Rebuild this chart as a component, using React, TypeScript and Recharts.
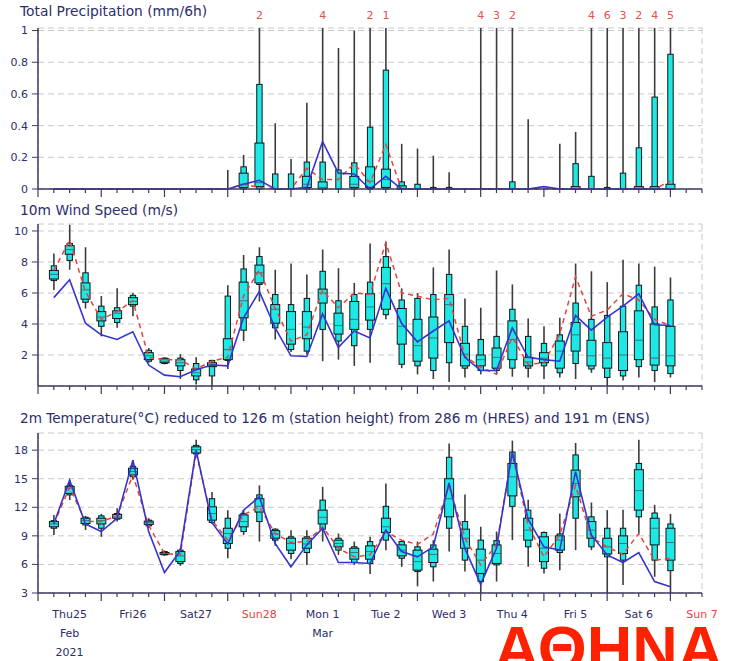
import React from 'react';
import { ComposedChart, Bar, Line, XAxis, YAxis, CartesianGrid } from 'recharts';

// ---- time axis (hours after Thu 25 Feb 2021 00 UTC) ----
const hours = [6, 12, 18, 24, 30, 36, 42, 48, 54, 60, 66, 72, 78, 84, 90, 96, 102, 108, 114, 120,
  126, 132, 138, 144, 150, 156, 162, 168, 174, 180, 186, 192, 198, 204, 210, 216, 222, 228, 234, 240];
const dayLabels = ['Thu25', 'Fri26', 'Sat27', 'Sun28', 'Mon 1', 'Tue 2', 'Wed 3', 'Thu 4', 'Fri 5', 'Sat 6', 'Sun 7'];
const monthLabels = ['Feb', '', '', '', 'Mar', '', '', '', '', '', ''];
const yearLabels = ['2021', '', '', '', '', '', '', '', '', '', ''];
const redDays = ['Sun28', 'Sun 7'];
const dayLines = [24, 48, 72, 96, 120, 144, 168, 192, 216, 240];

// ---- precipitation (mm/6h) ----
const prMin = [0,0,0,0,0,0,0,0,0,0,0,0,0,0,0,0,0,0,0,0,0,0,0,0,0,0,0,0,0,0,0,0,0,0,0,0,0,0,0,0];
const prP10 = [0,0,0,0,0,0,0,0,0,0,0,0,0,0,0,0,0,0,0,0,0,0,0,0,0,0,0,0,0,0,0,0,0,0,0,0,0,0,0,0];
const prP25 = [0,0,0,0,0,0,0,0,0,0,0,0,0.01,0.015,0,0,0.01,0,0,0.01,0.01,0.01,0,0,0,0,0,0,0,0,0,0,0,0,0,0,0,0,0,0];
const prMed = [0,0,0,0,0,0,0,0,0,0,0,0,0.03,0.04,0,0,0.03,0.01,0,0.03,0.05,0.06,0,0,0,0,0,0,0,0,0,0,0,0,0,0,0,0,0,0];
const prP75 = [0,0,0,0,0,0,0,0,0,0,0,0,0.1,0.29,0,0,0.08,0.045,0,0.08,0.14,0.125,0.02,0,0,0,0,0,0,0,0,0,0,0.015,0,0,0,0.015,0.015,0.03];
const prP90 = [0,0,0,0,0,0,0,0,0,0,0,0,0.14,0.66,0.095,0.095,0.17,0.17,0.12,0.165,0.39,0.75,0.045,0.03,0.01,0.01,0,0,0,0.045,0,0,0,0.16,0.08,0.01,0.1,0.26,0.58,0.85];
const prMax = [0,0,0,0,0,0,0,0,0,0,0,0.12,0.215,2,0.415,0.19,0.545,4,0.89,1.0,2,1.3,0.285,0.255,0.21,0.105,0,4,3,2,0.44,0,0.285,0.36,4,6,3,2,4,5];
const prCtrl = [0,0,0,0,0,0,0,0,0,0,0,0,0.03,0.01,0,0,0.13,0.06,0.06,0.16,0.04,0.28,0,0,0,0,0,0,0,0,0,0,0,0,0,0,0,0,0,0.05];
const prHres = [0,0,0,0,0,0,0,0,0,0,0,0,0.03,0.055,0,0,0.01,0.3,0.1,0.095,0,0.08,0,0,0,0,0,0,0,0,0,0.015,0,0,0,0,0,0,0,0];

// ---- 10m wind speed (m/s) ----
const wsMin = [6.2,7.5,5.0,3.2,3.75,4.5,1.5,1.4,0.45,0.1,0.0,1.1,2.9,5.45,3.0,2.2,2.05,1.6,1.7,1.3,1.5,4.3,1.15,0.75,0.45,0.25,0.55,0.75,0.75,0.6,0.55,0.45,0.55,0.45,0.85,0.0,0.35,0.55,0.25,0.55];
const wsP10 = [6.8,8.1,5.4,3.85,4.1,5.15,1.6,1.45,1.0,0.4,0.65,1.65,3.6,6.55,3.75,2.35,2.25,3.65,2.9,2.6,3.65,4.6,1.4,1.3,1.0,1.5,1.15,1.0,1.0,1.15,1.15,1.3,0.85,1.45,1.1,0.55,0.65,1.25,1.0,0.8];
const wsP25 = [6.9,8.5,5.6,4.2,4.35,5.25,1.7,1.5,1.3,0.65,1.25,1.7,4.4,6.65,4.05,2.7,3.05,5.35,3.35,3.65,4.25,4.95,2.7,1.6,1.8,2.8,1.3,1.3,1.15,1.7,1.3,1.5,1.15,2.25,1.3,1.15,1.0,1.7,1.35,1.3];
const wsMed = [7.2,8.8,6.2,4.45,4.7,5.45,1.95,1.6,1.5,0.85,1.4,2.35,5.5,7.3,4.95,3.65,3.8,6.0,3.9,4.3,5.1,6.6,3.85,2.6,3.1,5.25,2.05,1.7,1.85,3.0,1.55,1.8,2.25,3.3,1.95,1.8,2.0,2.95,1.8,1.95];
const wsP75 = [7.45,9.05,6.65,4.8,4.85,5.7,2.15,1.75,1.7,1.1,1.5,3.05,6.7,7.8,5.25,4.8,4.8,6.25,4.7,5.45,5.95,7.65,5.0,4.3,4.45,5.9,2.75,2.0,2.45,4.2,1.85,2.15,2.9,4.1,2.95,2.8,3.5,4.85,4.0,3.85];
const wsP90 = [7.75,9.2,7.3,5.15,5.05,5.85,2.3,1.8,1.8,1.45,1.65,5.8,7.55,8.35,5.9,5.25,5.65,7.4,5.5,5.9,6.7,8.35,5.55,5.65,5.9,7.2,3.85,3.0,3.2,4.95,3.2,2.75,3.3,5.35,4.3,4.55,5.15,6.5,5.1,5.55];
const wsMax = [8.55,10.4,8.95,5.8,6.3,6.0,2.45,1.85,2.05,1.85,1.7,6.5,8.45,8.95,7.5,7.9,7.2,8.8,7.6,6.65,9.2,9.3,6.3,6.0,7.65,8.8,5.65,5.05,7.45,6.55,4.35,3.85,4.4,7.9,7.4,6.7,8.15,7.9,7.7,7.0];
const wsCtrl = [7.45,9.4,6.1,4.3,4.8,5.5,1.85,1.7,1.7,1.1,1.6,1.85,5.8,7.5,5.0,2.9,3.3,6.2,5.05,6.0,5.9,9.25,6.0,5.8,5.55,5.65,1.95,1.2,0.75,3.15,1.4,1.5,3.35,7.05,4.5,4.9,5.95,5.55,4.3,3.9];
const wsHres = [5.7,6.85,4.05,3.3,3.0,3.5,1.35,0.7,0.6,1.05,1.35,1.3,4.4,6.1,3.75,1.95,1.9,4.65,2.5,3.55,3.1,6.3,4.05,2.85,3.55,4.2,1.85,1.0,1.0,3.75,1.85,1.7,1.6,4.55,3.6,4.45,5.15,5.95,3.95,3.9];

// ---- 2m temperature (°C) ----
const tMin = [9.1,12.75,9.6,8.9,10.5,14.9,9.85,6.9,5.85,17.2,10.25,6.65,9.1,8.4,7.95,6.55,5.95,8.4,7.0,5.95,5.0,7.5,5.75,3.7,4.2,7.35,5.25,3.0,4.2,8.55,5.75,5.05,5.4,7.5,7.5,2.45,3.85,9.25,4.7,2.3];
const tP10 = [9.8,13.3,10.15,9.8,10.75,15.2,10.05,7.0,6.1,17.6,10.4,7.7,9.45,10.5,8.55,7.15,7.25,9.7,7.5,6.2,6.1,8.55,6.65,5.25,5.75,9.8,6.45,4.2,5.95,12.1,7.85,5.6,7.25,10.85,7.85,6.8,6.45,11.0,6.45,5.35];
const tP25 = [9.95,13.45,10.3,10.25,10.85,15.4,10.2,7.05,6.3,17.7,10.65,8.2,9.95,11.5,8.75,7.5,7.7,10.25,7.85,6.55,6.55,9.35,6.9,5.4,6.2,11.0,7.7,5.05,6.1,13.2,8.55,6.3,7.5,13.1,8.75,7.1,7.15,11.7,8.05,6.45];
const tMed = [10.25,14.0,10.6,10.6,11.0,15.75,10.4,7.15,6.9,18.05,11.35,9.25,10.5,12.1,9.2,8.2,8.15,10.95,8.2,7.25,7.35,9.95,7.5,6.3,7.05,12.9,8.75,6.45,7.15,15.2,9.6,7.7,8.55,14.5,9.6,7.85,8.2,13.75,9.8,8.3];
const tP75 = [10.5,14.2,10.85,10.85,11.25,16.1,10.55,7.25,7.35,18.35,12.05,9.8,11.2,12.9,9.55,8.75,8.75,11.7,8.55,7.7,7.95,10.85,8.05,7.5,7.6,15.0,9.7,7.6,8.05,16.6,10.85,8.9,9.0,15.9,10.5,8.75,9.0,15.95,10.85,9.8];
const tP90 = [10.6,14.3,10.95,11.1,11.35,16.3,10.65,7.35,7.5,18.5,12.9,10.85,11.35,13.3,9.7,8.9,8.9,12.75,8.75,7.85,8.4,12.1,8.4,7.85,8.05,17.25,10.5,8.55,8.5,17.8,11.7,9.35,9.2,17.5,11.0,9.8,9.8,16.6,11.4,10.25];
const tMax = [11.2,14.85,11.1,11.3,11.9,16.95,10.85,7.45,7.7,19.1,13.6,11.7,11.7,14.3,9.8,9.6,9.6,14.15,9.25,8.4,8.9,14.5,8.55,8.4,8.55,18.7,13.35,9.95,9.45,19.0,12.8,9.45,11.35,18.75,12.5,11.7,11.75,19.1,12.25,11.3];
const tCtrl = [10.25,14.1,10.5,10.5,11.1,15.4,10.1,7.15,7.0,17.8,10.65,8.55,11.2,12.05,9.25,8.3,8.4,9.95,7.7,6.8,7.0,9.45,8.55,8.1,9.2,14.3,8.75,5.95,8.05,17.65,10.15,6.8,9.1,14.3,8.85,7.85,7.05,9.25,6.45,6.65];
const tHres = [10.25,14.85,10.25,9.45,10.85,16.95,9.45,5.15,7.45,18.0,10.4,8.15,11.7,13.1,8.2,5.75,8.05,9.8,6.2,6.2,6.1,9.6,7.35,6.8,7.85,14.55,7.7,3.9,7.7,17.8,10.75,7.85,7.5,15.75,9.1,7.0,6.2,7.25,4.2,3.65];

const prTicks = [0, 0.2, 0.4, 0.6, 0.8, 1];
const wsTicks = [2, 4, 6, 8, 10];
const tTicks = [3, 6, 9, 12, 15, 18];

const titles = [
  'Total Precipitation (mm/6h)',
  '10m Wind Speed (m/s)',
  '2m Temperature(°C) reduced to 126 m (station height) from 286 m (HRES) and 191 m (ENS)',
];
const stationName = 'ΑΘΗΝΑ';

// ---- styles ----
const FONT = 'DejaVu Sans';
const NAVY = '#2d2d6a';
const AXIS = '#3b3b62';
const FRAME = '#c9c3bb';
const GRID = '#c8c8c8';
const CYAN = '#1de8e6';
const RED = '#e5433d';
const BLUE = '#3434cf';
const W = 729;
const MARGIN_R = 27;
const Y_W = 38;

const axisTicks: number[] = [];
for (let h = 0; h <= 252; h += 6) axisTicks.push(h);

type Series = { mn: number[]; p10: number[]; p25: number[]; med: number[]; p75: number[]; p90: number[]; mx: number[]; ctrl: number[]; hres: number[] };

function buildRows(s: Series, lo: number, hi: number) {
  return hours.map((t, i) => ({
    t,
    whisker: [Math.max(s.mn[i], lo), Math.min(s.mx[i], hi)],
    p10: s.p10[i],
    p25: s.p25[i],
    med: s.med[i],
    p75: s.p75[i],
    p90: s.p90[i],
    ctrl: s.ctrl[i],
    hres: s.hres[i],
    label: s.mx[i] > hi ? String(Math.round(s.mx[i])) : null,
  }));
}

const BoxShape = (props: any) => {
  const { x, y, width, height, payload } = props;
  if (!payload || x == null || y == null) return null;
  const [lo, hi] = payload.whisker;
  const cx = x + width / 2;
  const span = hi - lo;
  const px = (v: number) => (span > 0 ? y + (height * (hi - v)) / span : y + height);
  const out: any[] = [];
  if (payload.label) {
    out.push(
      <text key="lb" x={cx} y={y - 9} textAnchor="middle" fontSize={11} fontFamily={FONT} fill="#e05252">
        {payload.label}
      </text>
    );
  }
  if (span > 0) {
    out.push(<line key="wh" x1={cx} x2={cx} y1={px(hi)} y2={px(lo)} stroke="#3c3c3c" strokeWidth={1.6} />);
    const v10 = Math.max(payload.p10, lo);
    const v90 = Math.min(payload.p90, hi);
    if (v90 > v10) {
      out.push(
        <rect key="nb" x={cx - 2.7} width={5.4} y={px(v90)} height={px(v10) - px(v90)} fill={CYAN} stroke="#151515" strokeWidth={1} />
      );
    }
    const v25 = Math.max(payload.p25, lo);
    const v75 = Math.min(payload.p75, hi);
    if (v75 > v25) {
      out.push(
        <rect key="wb" x={cx - 4.5} width={9} y={px(v75)} height={px(v25) - px(v75)} fill={CYAN} stroke="#151515" strokeWidth={1} />
      );
      out.push(
        <line key="md" x1={cx - 4.5} x2={cx + 4.5} y1={px(payload.med)} y2={px(payload.med)} stroke="#3a5a5a" strokeWidth={0.8} />
      );
    }
  }
  return <g>{out}</g>;
};

const MinorTick = (props: any) => {
  const { x, y, payload } = props;
  const v = payload.value;
  const major = v % 24 === 0;
  return <line x1={x} x2={x} y1={y} y2={y + (major ? 8 : 4)} stroke={AXIS} strokeWidth={1.2} />;
};

const LabelTick = (props: any) => {
  const { x, y, payload } = props;
  const v = payload.value;
  const major = v % 24 === 0;
  const parts: any[] = [<line key="tl" x1={x} x2={x} y1={y} y2={y + (major ? 8 : 4)} stroke={AXIS} strokeWidth={1.2} />];
  if (v % 24 === 12) {
    const d = (v - 12) / 24;
    const name = dayLabels[d];
    if (name) {
      parts.push(
        <text key="d" x={x} y={y + 25} textAnchor="middle" fontSize={11} fontFamily={FONT} fill={redDays.includes(name) ? RED : NAVY}>
          {name}
        </text>
      );
    }
    if (monthLabels[d]) {
      parts.push(
        <text key="m" x={x} y={y + 44} textAnchor="middle" fontSize={11} fontFamily={FONT} fill={NAVY}>
          {monthLabels[d]}
        </text>
      );
    }
    if (yearLabels[d]) {
      parts.push(
        <text key="y" x={x} y={y + 63} textAnchor="middle" fontSize={11} fontFamily={FONT} fill={NAVY}>
          {yearLabels[d]}
        </text>
      );
    }
  }
  return <g>{parts}</g>;
};

type PanelProps = {
  rows: any[];
  domain: [number, number];
  ticks: number[];
  height: number;
  top: number;
  xHeight: number;
  bottom: number;
  labels: boolean;
};

const Panel = ({ rows, domain, ticks, height, top, xHeight, bottom, labels }: PanelProps) => (
  <ComposedChart width={W} height={height} data={rows} margin={{ top, right: MARGIN_R, bottom, left: 0 }}>
    <CartesianGrid stroke={GRID} strokeDasharray="6 4" xAxisId="frame" />
    <XAxis
      dataKey="t"
      type="number"
      domain={[0, 252]}
      ticks={axisTicks}
      interval={0}
      height={xHeight}
      tickSize={0}
      tickMargin={0}
      tickLine={false}
      tick={labels ? <LabelTick /> : <MinorTick />}
      axisLine={{ stroke: AXIS, strokeWidth: 1.5 }}
    />
    <XAxis
      xAxisId="frame"
      orientation="top"
      type="number"
      domain={[0, 252]}
      ticks={dayLines}
      interval={0}
      height={0}
      tick={false}
      tickLine={false}
      axisLine={{ stroke: FRAME, strokeWidth: 1.5 }}
    />
    <YAxis
      type="number"
      domain={domain}
      ticks={ticks}
      interval={0}
      width={Y_W}
      tickSize={6}
      tickMargin={4}
      tick={{ fontSize: 11, fontFamily: FONT, fill: NAVY }}
      tickLine={{ stroke: AXIS }}
      axisLine={{ stroke: AXIS, strokeWidth: 1.5 }}
    />
    <YAxis
      yAxisId="frame"
      orientation="right"
      type="number"
      domain={domain}
      width={0}
      tick={false}
      tickLine={false}
      axisLine={{ stroke: FRAME, strokeWidth: 1.5 }}
    />
    <Bar dataKey="whisker" barSize={10} shape={<BoxShape />} isAnimationActive={false} />
    <Line dataKey="ctrl" type="linear" stroke={RED} strokeWidth={1.5} strokeDasharray="5 4" dot={false} isAnimationActive={false} />
    <Line dataKey="hres" type="linear" stroke={BLUE} strokeWidth={1.6} dot={false} isAnimationActive={false} />
  </ComposedChart>
);

const PR_DOMAIN: [number, number] = [0, 1.016];
const WS_DOMAIN: [number, number] = [0, 10.45];
const T_DOMAIN: [number, number] = [3, 19.8];

const prRows = buildRows({ mn: prMin, p10: prP10, p25: prP25, med: prMed, p75: prP75, p90: prP90, mx: prMax, ctrl: prCtrl, hres: prHres }, PR_DOMAIN[0], PR_DOMAIN[1]);
const wsRows = buildRows({ mn: wsMin, p10: wsP10, p25: wsP25, med: wsMed, p75: wsP75, p90: wsP90, mx: wsMax, ctrl: wsCtrl, hres: wsHres }, WS_DOMAIN[0], WS_DOMAIN[1]);
const tRows = buildRows({ mn: tMin, p10: tP10, p25: tP25, med: tMed, p75: tP75, p90: tP90, mx: tMax, ctrl: tCtrl, hres: tHres }, T_DOMAIN[0], T_DOMAIN[1]);

export default function App() {
  return (
    <div style={{ position: 'absolute', left: 0, top: 0, width: 729, height: 661, overflow: 'hidden', background: '#fff' }}>
      <div style={{ position: 'absolute', left: 0, top: 0 }}>
        <Panel rows={prRows} domain={PR_DOMAIN} ticks={prTicks} height={200} top={28} xHeight={11} bottom={0} labels={false} />
      </div>
      <div style={{ position: 'absolute', left: 0, top: 200 }}>
        <Panel rows={wsRows} domain={WS_DOMAIN} ticks={wsTicks} height={200} top={24} xHeight={11} bottom={3} labels={false} />
      </div>
      <div style={{ position: 'absolute', left: 0, top: 400 }}>
        <Panel rows={tRows} domain={T_DOMAIN} ticks={tTicks} height={261} top={33} xHeight={68} bottom={0} labels={true} />
      </div>
      <svg width={729} height={661} style={{ position: 'absolute', left: 0, top: 0, pointerEvents: 'none' }}>
        <text x={20} y={16} fontSize={13.8} fontFamily={FONT} fill={NAVY}>{titles[0]}</text>
        <text x={20} y={215} fontSize={13.8} fontFamily={FONT} fill={NAVY}>{titles[1]}</text>
        <text x={20} y={423} fontSize={13.6} fontFamily={FONT} fill={NAVY}>{titles[2]}</text>
        <text x={494} y={670} fontSize={63} fontWeight="bold" fontFamily="Liberation Sans" fill="#ff2000">{stationName}</text>
      </svg>
    </div>
  );
}
